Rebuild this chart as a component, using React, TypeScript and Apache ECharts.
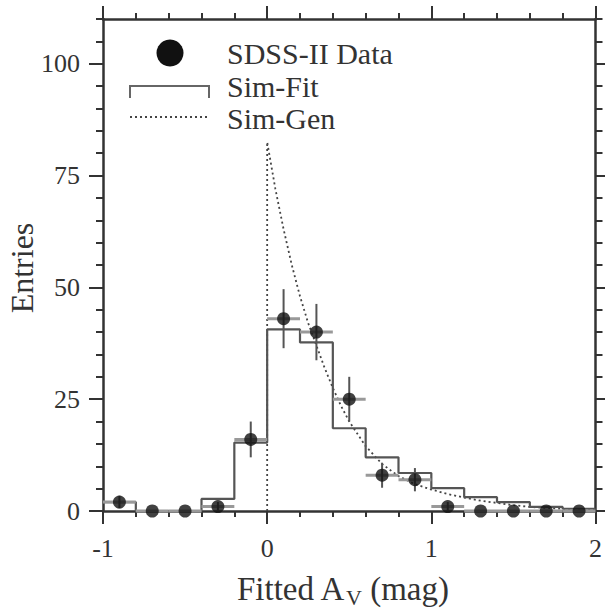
import React, { useEffect, useRef } from "react";
import * as echarts from "echarts";

// Histogram bin edges (A_V, mag) and Sim-Fit histogram contents
const binEdges = [-1, -0.8, -0.6, -0.4, -0.2, 0, 0.2, 0.4, 0.6, 0.8, 1.0, 1.2, 1.4, 1.6, 1.8, 2.0];
const simFit = [2, 0, 0, 2.7, 15.3, 40.6, 37.7, 18.5, 12, 8.5, 5.1, 3.1, 2, 0.9, 0.5];

// SDSS-II data points (bin centres, entries, vertical error)
const dataX = [-0.9, -0.7, -0.5, -0.3, -0.1, 0.1, 0.3, 0.5, 0.7, 0.9, 1.1, 1.3, 1.5, 1.7, 1.9];
const dataY = [2, 0, 0, 1, 16, 43, 40, 25, 8, 7, 1, 0, 0, 0, 0];
const dataErr = [1.4, 0, 0, 1, 4, 6.6, 6.3, 5, 2.8, 2.6, 1, 0, 0, 0, 0];
const binHalfWidth = 0.1;

// Sim-Gen curve (generated distribution)
const genX = [0, 0, 0.05, 0.1, 0.15, 0.2, 0.25, 0.3, 0.35, 0.4, 0.45, 0.5, 0.6, 0.7, 0.8, 0.9, 1.0, 1.1, 1.2, 1.3, 1.4, 1.5, 1.6, 1.7, 1.8, 1.9, 2.0];
const genY = [0, 82.5, 72, 63, 55, 48, 42, 37, 32, 27.5, 23.5, 20, 14.5, 10.5, 7.8, 6, 4.8, 3.8, 3, 2.3, 1.8, 1.3, 0.9, 0.7, 0.5, 0.4, 0.3];

// Axis ticks
const yMajorTicks = [0, 25, 50, 75, 100];
const xMin = -1;
const xMax = 2;
const yMin = 0;
const yMax = 110;

// Texts
const legendLabels = ["SDSS-II Data", "Sim-Fit", "Sim-Gen"];
const yTitle = "Entries";
const xTitleMain = "Fitted A";
const xTitleSub = "V";
const xTitleTail = " (mag)";

const FONT = '"Liberation Serif", "Times New Roman", serif';
const INK = "#333";

function measure(text: string, size: number): number {
  const c = document.createElement("canvas").getContext("2d");
  if (!c) return text.length * size * 0.5;
  c.font = `${size}px "Liberation Serif"`;
  return c.measureText(text).width;
}

export default function App() {
  const ref = useRef<HTMLDivElement>(null);

  useEffect(() => {
    document.body.style.margin = "0";
    if (!ref.current) return;
    const chart = echarts.init(ref.current, null, { renderer: "svg" });

    const stepData: number[][] = [];
    simFit.forEach((v, i) => {
      stepData.push([binEdges[i], v]);
      stepData.push([binEdges[i + 1], v]);
    });

    const errData = dataX.map((x, i) => [x, dataY[i], dataErr[i]]);
    const ptData = dataX.map((x, i) => [x, dataY[i]]);
    const genData = genX.map((x, i) => [x, genY[i]]);

    const xBase = (position: "bottom" | "top", showLabel: boolean) => ({
      type: "value",
      position,
      min: xMin,
      max: xMax,
      interval: 1,
      axisLine: { show: true, onZero: false, lineStyle: { color: INK, width: 2.5 } },
      axisTick: { show: true, length: 13, lineStyle: { color: INK, width: 2 } },
      minorTick: { show: true, splitNumber: 5, length: 6, lineStyle: { color: INK, width: 2 } },
      splitLine: { show: false },
      axisLabel: {
        show: showLabel,
        margin: 24,
        fontSize: 26,
        fontFamily: FONT,
        color: INK,
      },
    });

    const yMinorAxis = (position: "left" | "right", showLabel: boolean) => ({
      type: "value",
      position,
      min: yMin,
      max: yMax,
      interval: 5,
      axisLine: { show: true, onZero: false, lineStyle: { color: INK, width: 2.5 } },
      axisTick: { show: true, length: 7, lineStyle: { color: INK, width: 2 } },
      splitLine: { show: false },
      axisLabel: {
        show: showLabel,
        margin: 23,
        fontSize: 26,
        fontFamily: FONT,
        color: INK,
        formatter: (v: number) => (yMajorTicks.indexOf(v) >= 0 ? String(v) : ""),
      },
    });

    const yMajorAxis = (position: "left" | "right") => ({
      type: "value",
      position,
      min: yMin,
      max: yMax,
      interval: 25,
      axisLine: { show: false, onZero: false },
      axisTick: { show: true, length: 14, customValues: yMajorTicks, lineStyle: { color: INK, width: 2 } },
      splitLine: { show: false },
      axisLabel: { show: false },
    });

    // x-axis title with subscript, laid out as three texts
    const mainSize = 33;
    const subSize = 22;
    const w1 = measure(xTitleMain, mainSize);
    const w2 = measure(xTitleSub, subSize);
    const w3 = measure(xTitleTail, mainSize);
    const titleCenterX = 343;
    const x0 = titleCenterX - (w1 + w2 + w3) / 2;

    const legendTextStyle = { fontSize: 30, fontFamily: FONT, fill: INK, verticalAlign: "middle", align: "left" };

    const option: any = {
      animation: false,
      grid: { left: 103, right: 9, top: 19, bottom: 99 },
      xAxis: [xBase("bottom", true), xBase("top", false)],
      yAxis: [yMinorAxis("left", true), yMajorAxis("left"), yMinorAxis("right", false), yMajorAxis("right")],
      series: [
        {
          name: "Sim-Gen",
          type: "line",
          data: genData,
          showSymbol: false,
          symbol: "none",
          clip: false,
          lineStyle: { color: "#444", width: 1.8, type: [2, 3] },
          z: 2,
        },
        {
          name: "Sim-Fit",
          type: "line",
          data: stepData,
          showSymbol: false,
          symbol: "none",
          clip: false,
          lineStyle: { color: "#555", width: 2.2 },
          z: 3,
        },
        {
          name: "errors",
          type: "custom",
          data: errData,
          clip: false,
          z: 4,
          renderItem: (params: any, api: any) => {
            const x = api.value(0);
            const y = api.value(1);
            const e = api.value(2);
            const l = api.coord([x - binHalfWidth, y]);
            const r = api.coord([x + binHalfWidth, y]);
            const children: any[] = [
              {
                type: "line",
                shape: { x1: l[0], y1: l[1], x2: r[0], y2: r[1] },
                style: { stroke: "#999", lineWidth: 3 },
              },
            ];
            if (e > 0) {
              const b = api.coord([x, y - e]);
              const t = api.coord([x, y + e]);
              children.push({
                type: "line",
                shape: { x1: b[0], y1: b[1], x2: t[0], y2: t[1] },
                style: { stroke: "#555", lineWidth: 2 },
              });
            }
            return { type: "group", children };
          },
        },
        {
          name: "SDSS-II Data",
          type: "scatter",
          data: ptData,
          symbol: "circle",
          symbolSize: 13,
          clip: false,
          itemStyle: { color: "#111" },
          z: 5,
        },
      ],
      graphic: [
        { type: "circle", shape: { cx: 170, cy: 53, r: 13.5 }, style: { fill: "#111" } },
        {
          type: "polyline",
          shape: { points: [[130, 98], [130, 86], [209, 86], [209, 98]] },
          style: { stroke: "#666", lineWidth: 2, fill: null },
        },
        {
          type: "line",
          shape: { x1: 130, y1: 117, x2: 208, y2: 117 },
          style: { stroke: "#444", lineWidth: 1.8, lineDash: [2, 3] },
        },
        { type: "text", x: 227, y: 53, style: { text: legendLabels[0], ...legendTextStyle } },
        { type: "text", x: 227, y: 86, style: { text: legendLabels[1], ...legendTextStyle } },
        { type: "text", x: 227, y: 118, style: { text: legendLabels[2], ...legendTextStyle } },
        {
          type: "text",
          x: 22,
          y: 268,
          rotation: Math.PI / 2,
          style: { text: yTitle, fontSize: 32, fontFamily: FONT, fill: INK, align: "center", verticalAlign: "middle" },
        },
        {
          type: "text",
          x: x0,
          y: 589,
          style: { text: xTitleMain, fontSize: mainSize, fontFamily: FONT, fill: INK, align: "left", verticalAlign: "middle" },
        },
        {
          type: "text",
          x: x0 + w1,
          y: 597,
          style: { text: xTitleSub, fontSize: subSize, fontFamily: FONT, fill: INK, align: "left", verticalAlign: "middle" },
        },
        {
          type: "text",
          x: x0 + w1 + w2,
          y: 589,
          style: { text: xTitleTail, fontSize: mainSize, fontFamily: FONT, fill: INK, align: "left", verticalAlign: "middle" },
        },
      ],
    };

    chart.setOption(option);
    return () => chart.dispose();
  }, []);

  return <div ref={ref} style={{ width: 605, height: 610 }} />;
}
